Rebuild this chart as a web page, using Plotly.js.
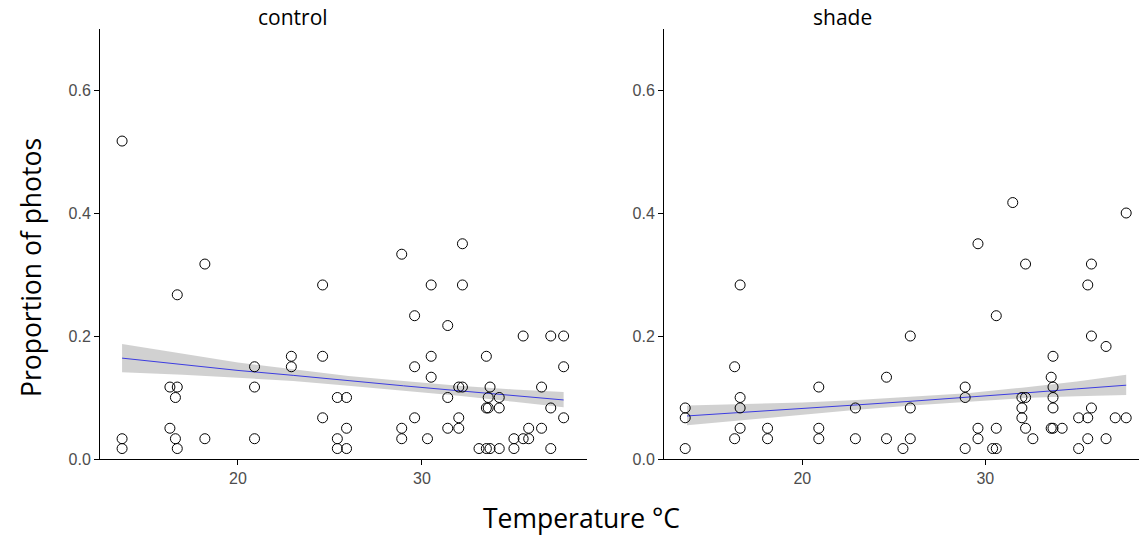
<!DOCTYPE html>
<html>
<head>
<meta charset="utf-8">
<script src="https://cdn.plot.ly/plotly-3.0.1.min.js"></script>
<style>html,body{margin:0;padding:0;background:#fff;}#chart{width:1139px;height:537px;}</style>
</head>
<body>
<div id="chart"></div>
<script>
// ---- data ----
const panelNames = ["control", "shade"];

const controlTemp = [13.7,13.7,13.7,16.3,16.7,16.6,16.3,16.6,16.7,16.7,18.2,18.2,20.9,20.9,20.9,22.9,22.9,24.6,24.6,24.6,
  25.4,25.9,25.9,25.4,25.4,25.9,28.9,28.9,28.9,29.6,29.6,29.6,30.3,30.5,30.5,30.5,31.4,31.4,31.4,32.0,
  32.2,32.0,32.0,32.2,32.2,33.5,33.7,33.6,34.2,33.5,33.6,34.2,33.1,33.5,33.7,34.2,35.0,35.0,35.5,35.8,
  35.8,35.5,36.5,36.5,37.0,37.7,37.0,37.0,37.7,37.7];
const controlProp = [0.517,0.033,0.017,0.117,0.117,0.100,0.050,0.033,0.017,0.267,0.317,0.033,0.150,0.117,0.033,0.167,0.150,0.283,0.167,0.067,
  0.100,0.100,0.050,0.033,0.017,0.017,0.333,0.050,0.033,0.233,0.150,0.067,0.033,0.283,0.167,0.133,0.217,0.100,0.050,0.117,
  0.117,0.067,0.050,0.350,0.283,0.167,0.117,0.100,0.100,0.083,0.083,0.083,0.017,0.017,0.017,0.017,0.033,0.017,0.033,0.033,
  0.050,0.200,0.117,0.050,0.200,0.200,0.083,0.017,0.150,0.067];

const shadeTemp = [13.6,13.6,13.6,16.3,16.6,16.6,16.6,16.6,16.3,18.1,18.1,20.9,20.9,20.9,22.9,22.9,24.6,24.6,25.5,25.9,
  25.9,25.9,28.9,28.9,28.9,29.6,29.6,29.6,30.4,30.6,30.6,30.6,31.5,32.0,32.2,32.0,32.0,32.2,32.2,32.6,
  33.6,33.7,33.7,33.7,33.7,33.6,33.7,34.2,35.1,35.1,35.6,35.8,35.8,35.8,35.6,35.6,36.6,36.6,37.1,37.7,37.7];
const shadeProp = [0.083,0.067,0.017,0.150,0.283,0.100,0.083,0.050,0.033,0.050,0.033,0.117,0.050,0.033,0.083,0.033,0.133,0.033,0.017,0.200,
  0.083,0.033,0.117,0.100,0.017,0.350,0.050,0.033,0.017,0.017,0.233,0.050,0.417,0.100,0.100,0.083,0.067,0.050,0.317,0.033,
  0.133,0.167,0.117,0.100,0.083,0.050,0.050,0.050,0.067,0.017,0.283,0.317,0.200,0.083,0.067,0.033,0.183,0.033,0.067,0.067,0.400];

// smoothed fit and confidence band
const fitTemp   = [13.7, 17, 20, 23, 26, 29, 32, 35, 37.7];
const controlFit = [0.164,0.153,0.144,0.136,0.127,0.119,0.111,0.103,0.096];
const controlLo  = [0.141,0.137,0.132,0.127,0.119,0.111,0.103,0.093,0.084];
const controlHi  = [0.187,0.171,0.157,0.146,0.135,0.127,0.119,0.113,0.109];
const shadeFit   = [0.070,0.076,0.082,0.088,0.094,0.100,0.107,0.114,0.120];
const shadeLo    = [0.055,0.064,0.072,0.080,0.087,0.093,0.099,0.102,0.104];
const shadeHi    = [0.087,0.089,0.092,0.096,0.101,0.107,0.116,0.126,0.137];

const xTickVals = [20, 30];
const yTickVals = [0, 0.2, 0.4, 0.6];
const yTickText = ["0.0", "0.2", "0.4", "0.6"];

const xTitle = "Temperature °C";
const yTitle = "Proportion of photos";

// ---- build traces ----
const bandFill = "rgba(153,153,153,0.45)";
const lineCol = "rgb(60,60,225)";
function panel(xs, ys, lo, fit, hi, xa, ya) {
  return [
    {x: fitTemp, y: lo, xaxis: xa, yaxis: ya, mode: "lines", line: {width: 0, color: bandFill}, hoverinfo: "skip", showlegend: false},
    {x: fitTemp, y: hi, xaxis: xa, yaxis: ya, mode: "lines", line: {width: 0, color: bandFill}, fill: "tonexty", fillcolor: bandFill, hoverinfo: "skip", showlegend: false},
    {x: fitTemp, y: fit, xaxis: xa, yaxis: ya, mode: "lines", line: {width: 1, color: lineCol}, showlegend: false},
    {x: xs, y: ys, xaxis: xa, yaxis: ya, mode: "markers", showlegend: false,
     marker: {symbol: "circle-open", size: 10, color: "black", line: {width: 1, color: "black"}}}
  ];
}
const data = [].concat(
  panel(controlTemp, controlProp, controlLo, controlFit, controlHi, "x", "y"),
  panel(shadeTemp, shadeProp, shadeLo, shadeFit, shadeHi, "x2", "y2")
);

const W = 1139, H = 537;
const tickFont = {family: "Liberation Sans, Arial, sans-serif", size: 16, color: "#4d4d4d"};
function xax(domain, range) {
  return {domain: domain, range: range, showline: true, linecolor: "black", linewidth: 1,
    ticks: "outside", ticklen: 5, tickcolor: "black", tickvals: xTickVals, showgrid: false,
    zeroline: false, tickfont: tickFont, fixedrange: true};
}
function yax(anchor) {
  return {domain: [78 / H, 1 - 28.5 / H], range: [0, 0.7], anchor: anchor, showline: true, linecolor: "black",
    linewidth: 1, ticks: "outside", ticklen: 5, tickcolor: "black", tickvals: yTickVals, ticktext: yTickText,
    showgrid: false, zeroline: false, tickfont: tickFont, fixedrange: true};
}
const titleFont = {family: "Open Sans, sans-serif", size: 26.5, color: "black"};
const panelFont = {family: "Open Sans, sans-serif", size: 21, color: "black"};
const layout = {
  width: W, height: H,
  margin: {l: 0, r: 0, t: 0, b: 0},
  paper_bgcolor: "white", plot_bgcolor: "white",
  xaxis: Object.assign(xax([100 / W, 587 / W], [12.5, 38.97]), {anchor: "y"}),
  yaxis: yax("x"),
  xaxis2: Object.assign(xax([664 / W, 1], [12.44, 38.4]), {anchor: "y2"}),
  yaxis2: yax("x2"),
  annotations: [
    {text: panelNames[0], x: 293 / W, y: 1 - 17 / H, xref: "paper", yref: "paper", showarrow: false,
     xanchor: "center", yanchor: "middle", font: panelFont},
    {text: panelNames[1], x: 842 / W, y: 1 - 17 / H, xref: "paper", yref: "paper", showarrow: false,
     xanchor: "center", yanchor: "middle", font: panelFont},
    {text: xTitle, x: 581 / W, y: 1 - 518 / H, xref: "paper", yref: "paper", showarrow: false,
     xanchor: "center", yanchor: "middle", font: titleFont},
    {text: yTitle, x: 31 / W, y: 1 - 268 / H, xref: "paper", yref: "paper", showarrow: false, textangle: -90,
     xanchor: "center", yanchor: "middle", font: titleFont}
  ]
};
Plotly.newPlot("chart", data, layout, {staticPlot: true, displayModeBar: false});
</script>
</body>
</html>
